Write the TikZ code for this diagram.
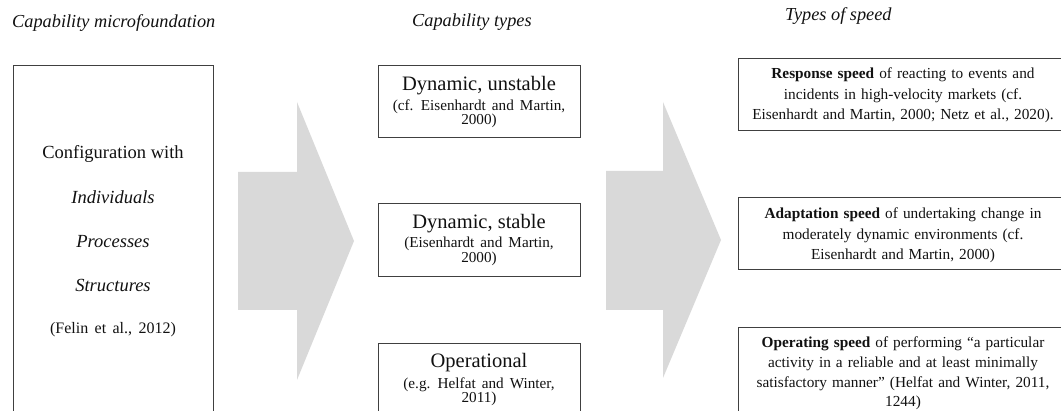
\documentclass[tikz,border=0pt]{standalone}
\usepackage{fontspec}
\setmainfont{Liberation Serif}
\usetikzlibrary{calc}
\definecolor{arrowgray}{HTML}{D9D9D9}
\definecolor{boxline}{HTML}{404040}
\definecolor{ink}{HTML}{111111}
\newcommand\mywidesp{\spaceskip=0.4em plus 0.1em\relax}
\newcommand\mymidsp{\spaceskip=0.33em plus 0.1em\relax}
\begin{document}
\begin{tikzpicture}[x=1pt,y=-1pt,
  box/.style={draw=boxline, line width=0.9pt, inner sep=0pt},
  hdr/.style={font=\fontsize{18.3}{20}\selectfont\itshape, text=ink, inner sep=0pt, anchor=base west},
  bigline/.style={font=\fontsize{18.5}{20}\selectfont, text=ink, inner sep=0pt, anchor=base},
  ttl/.style={font=\fontsize{20.5}{21}\selectfont, text=ink, inner sep=0pt, anchor=base},
  cite/.style={font=\fontsize{15.2}{16}\selectfont\mywidesp, text=ink, inner sep=0pt, anchor=base},
  spd/.style={font=\fontsize{15.3}{16}\selectfont\mymidsp, text=ink, inner sep=0pt, anchor=base},
  blockarrow/.style={fill=arrowgray, draw=none}]
\useasboundingbox (0,0) rectangle (1061,411);
\clip (0,0) rectangle (1061,411);

% headers
\node[hdr] (h1) at (12,28) {Capability microfoundation};
\node[hdr] (h2) at (412,27) {Capability types};
\node[hdr] (h3) at (785,21) {Types of speed};

% left box
\node[box, minimum width=200, minimum height=356] (found) at (113,243) {};
\node[bigline] (f1) at (113,159) {Configuration with};
\node[bigline, font=\fontsize{18.5}{20}\selectfont\itshape] (f2) at (113,204) {Individuals};
\node[bigline, font=\fontsize{18.5}{20}\selectfont\itshape] (f3) at (113,248) {Processes};
\node[bigline, font=\fontsize{18.5}{20}\selectfont\itshape] (f4) at (113,292) {Structures};
\node[cite, font=\fontsize{16}{17}\selectfont\mywidesp] (f5) at (113,334) {(Felin et al., 2012)};

% arrow 1
\fill[blockarrow] (238,172) -- (297,172) -- (297,102) -- (354,241) -- (297,380) -- (297,310) -- (238,310) -- cycle;

% middle boxes
\node[box, minimum width=202, minimum height=72] (c1) at (479,101) {};
\node[ttl] (c1a) at (479,90.5) {Dynamic, unstable};
\node[cite] (c1b) at (479,110.5) {(cf. Eisenhardt and Martin,};
\node[cite] (c1c) at (479,125) {2000)};

\node[box, minimum width=202, minimum height=73] (c2) at (479,239.5) {};
\node[ttl] (c2a) at (479,229) {Dynamic, stable};
\node[cite] (c2b) at (479,248) {(Eisenhardt and Martin,};
\node[cite] (c2c) at (479,263) {2000)};

\node[box, minimum width=202, minimum height=76] (c3) at (479,381) {};
\node[ttl] (c3a) at (479,368) {Operational};
\node[cite] (c3b) at (479,389) {(e.g. Helfat and Winter,};
\node[cite] (c3c) at (479,403) {2011)};

% arrow 2
\fill[blockarrow] (606,171) -- (663,171) -- (663,102) -- (721,240) -- (663,378) -- (663,310) -- (606,310) -- cycle;

% right boxes
\node[box, minimum width=330, minimum height=72] (s1) at (903,94) {};
\node[spd] (s1a) at (903,79) {\textbf{Response speed} of reacting to events and};
\node[spd] (s1b) at (903,100) {incidents in high-velocity markets (cf.};
\node[spd] (s1c) at (903,120) {Eisenhardt and Martin, 2000; Netz et al., 2020).};

\node[box, minimum width=330, minimum height=72] (s2) at (903,233) {};
\node[spd] (s2a) at (903,219) {\textbf{Adaptation speed} of undertaking change in};
\node[spd] (s2b) at (903,240) {moderately dynamic environments (cf.};
\node[spd] (s2c) at (903,260) {Eisenhardt and Martin, 2000)};

\node[box, minimum width=330, minimum height=92] (s3) at (903,373) {};
\node[spd] (s3a) at (903,348) {\textbf{Operating speed} of performing “a particular};
\node[spd] (s3b) at (903,368) {activity in a reliable and at least minimally};
\node[spd] (s3c) at (903,388) {satisfactory manner” (Helfat and Winter, 2011,};
\node[spd] (s3d) at (903,407) {1244)};
\end{tikzpicture}
\end{document}
